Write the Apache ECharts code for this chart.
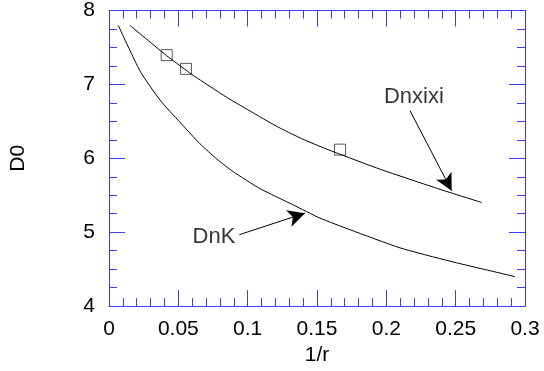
<!DOCTYPE html>
<html>
<head>
<meta charset="utf-8">
<script src="https://cdn.jsdelivr.net/npm/echarts@6/dist/echarts.min.js"></script>
<style>
  html, body { margin: 0; padding: 0; background: #fff; }
  #chart { width: 544px; height: 371px; }
</style>
</head>
<body>
<div id="chart"></div>
<script>
// curve Dnxixi (x = 1/r, y = D0)
const dnxixiX = [0.0151, 0.0416, 0.0555, 0.0608, 0.0849, 0.1017, 0.1209, 0.1377, 0.1522, 0.1666, 0.1954, 0.2387, 0.2688]
const dnxixiY = [7.799, 7.388, 7.193, 7.121, 6.825, 6.640, 6.433, 6.277, 6.160, 6.055, 5.853, 5.580, 5.402]

// curve DnK
const dnkX = [0.0067, 0.0224, 0.0368, 0.0512, 0.0656, 0.0777, 0.0896, 0.1089, 0.1329, 0.1521, 0.1738, 0.2099, 0.2459, 0.2928]
const dnkY = [7.799, 7.181, 6.788, 6.487, 6.197, 5.991, 5.818, 5.590, 5.369, 5.191, 5.034, 4.788, 4.608, 4.399]

// measured points (squares)
const pointsX = [0.0416, 0.0555, 0.1666]
const pointsY = [7.396, 7.210, 6.117]

// tick labels
const xTicks = ['0', '0.05', '0.1', '0.15', '0.2', '0.25', '0.3']
const yTicks = ['4', '5', '6', '7', '8']

// annotations: label position, arrow start, arrow tip
const labelNames = ['Dnxixi', 'DnK']
const labelPos = [[0.2199, 6.826], [0.0757, 4.933]]
const arrowFrom = [[0.2171, 6.644], [0.0940, 4.966]]
const arrowTo = [[0.2471, 5.561], [0.1413, 5.258]]

const zip = (xs, ys) => xs.map((x, i) => [x, ys[i]])
const font = 'Liberation Sans, Arial, sans-serif'
const blue = '#3c3cf0'

var myChart = echarts.init(document.getElementById('chart'))

const tickAxis = (extra, split) => Object.assign({
  axisLine: { show: true, onZero: false, lineStyle: { color: blue, width: 1 } },
  axisTick: { show: true, inside: true, length: 16, lineStyle: { color: blue, width: 1 } },
  minorTick: { show: true, splitNumber: split, length: 8, lineStyle: { color: blue, width: 1 } },
  splitLine: { show: false },
  minorSplitLine: { show: false },
}, extra)

const option = {
  animation: false,
  backgroundColor: '#fff',
  grid: { left: 109, top: 9, right: 19, bottom: 64, containLabel: false },
  xAxis: [
    tickAxis({
      type: 'value', min: 0, max: 0.3, interval: 0.05, position: 'bottom',
      axisLabel: {
        color: '#000', fontFamily: font, fontSize: 21, margin: 13,
        formatter: (v) => xTicks[Math.round(v / 0.05)],
      },
      name: '1/r', nameLocation: 'middle', nameGap: 37,
      nameTextStyle: { color: '#000', fontFamily: font, fontSize: 21 },
    }, 5),
    tickAxis({
      type: 'value', min: 0, max: 0.3, interval: 0.05, position: 'top',
      axisLabel: { show: false },
    }, 5),
  ],
  yAxis: [
    tickAxis({
      type: 'value', min: 4, max: 8, interval: 1, position: 'left',
      axisLabel: {
        color: '#000', fontFamily: font, fontSize: 21, margin: 14,
        formatter: (v) => yTicks[Math.round(v - 4)],
      },
      name: 'D0', nameLocation: 'middle', nameGap: 80, nameRotate: 90,
      nameTextStyle: { color: '#000', fontFamily: font, fontSize: 21 },
    }, 4),
    tickAxis({
      type: 'value', min: 4, max: 8, interval: 1, position: 'right',
      axisLabel: { show: false },
    }, 4),
  ],
  series: [
    {
      name: 'Dnxixi',
      type: 'line',
      smooth: 0.2,
      symbol: 'none',
      lineStyle: { color: '#000', width: 1 },
      data: zip(dnxixiX, dnxixiY),
    },
    {
      name: 'DnK',
      type: 'line',
      smooth: 0.2,
      symbol: 'none',
      lineStyle: { color: '#000', width: 1 },
      data: zip(dnkX, dnkY),
      markLine: {
        silent: true,
        symbol: ['none', 'arrow'],
        symbolSize: [13, 17],
        lineStyle: { color: '#000', width: 1, type: 'solid' },
        itemStyle: { color: '#000' },
        label: { show: false },
        data: arrowFrom.map((p, i) => [{ coord: p }, { coord: arrowTo[i] }]),
      },
    },
    {
      name: 'points',
      type: 'scatter',
      symbol: 'rect',
      symbolSize: 11,
      itemStyle: { color: 'rgba(0,0,0,0)', borderColor: '#333', borderWidth: 1 },
      data: zip(pointsX, pointsY),
    },
    {
      name: 'labels',
      type: 'scatter',
      symbolSize: 0,
      label: {
        show: true, position: 'inside', color: '#000', fontFamily: font, fontSize: 22,
        formatter: (p) => labelNames[p.dataIndex],
      },
      data: labelPos,
    },
  ],
}

myChart.setOption(option)
</script>
</body>
</html>
